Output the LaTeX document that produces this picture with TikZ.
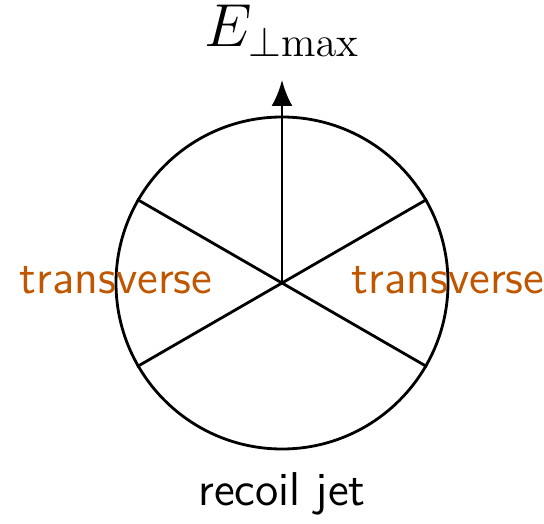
\documentclass[tikz,border=0pt]{standalone}
\usepackage{xcolor}
\usepackage{tikz}
\usetikzlibrary{arrows.meta,positioning}

\definecolor{burnt}{HTML}{BF5700}

\begin{document}
\begin{tikzpicture}[
  disc/.style={circle, draw, thick, minimum size=3.32cm, inner sep=0pt},
  spoke/.style={thick},
  arr/.style={-{Latex[length=2.6mm,width=2.1mm]}, thick},
  lbl/.style={font=\fontsize{13.5}{16}\selectfont\sffamily, anchor=base},
  side/.style={lbl, text=burnt}
]
\useasboundingbox (-2.82,-2.40) rectangle (2.62,2.83);
\node[disc] (disc) at (0,0) {};
\coordinate (tip) at (0,2.03);
% spokes
\foreach \a in {30,150,210,330}
  \draw[spoke] (disc.center) -- (disc.\a);
\draw[arr] (disc.center) -- (tip);
\node[lbl, font=\fontsize{17}{20}\selectfont] (emax) at (0,2.36) {$E_{\perp\mathrm{max}}$};
\node[side] (left) at (-1.66,-0.1) {transverse};
\node[side] (right) at (1.66,-0.1) {transverse};
\node[lbl] (recoil) at (0,-2.22) {recoil jet};
\end{tikzpicture}
\end{document}
